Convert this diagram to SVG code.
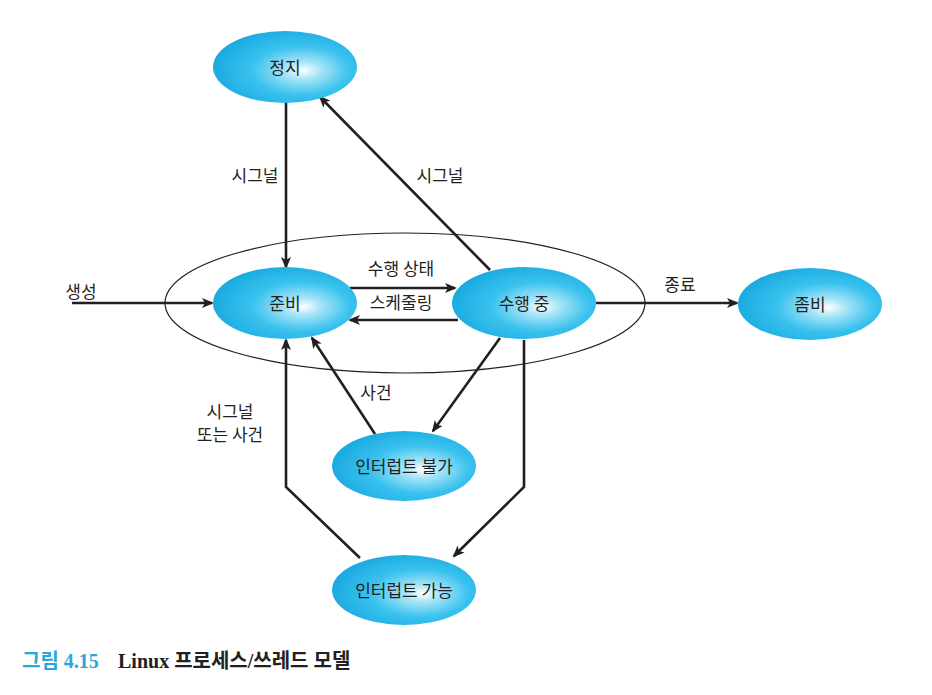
<svg xmlns="http://www.w3.org/2000/svg" width="932" height="695" viewBox="0 0 932 695">
<style>
.node{fill:url(#g);}
.lbl{font-family:"Noto Sans CJK KR","Liberation Sans",sans-serif;font-size:17px;fill:#231f20;text-anchor:middle;}
.edge{fill:none;stroke:#231f20;stroke-width:2.6;marker-end:url(#ah);}
.cap{font-family:"Liberation Serif","Noto Sans CJK KR",serif;font-weight:bold;font-size:20px;}
</style>
<defs>
<radialGradient id="g" cx="0.6" cy="0.55" r="0.62" fx="0.63" fy="0.55">
<stop offset="0" stop-color="#ffffff"/>
<stop offset="0.2" stop-color="#a6e4f7"/>
<stop offset="0.55" stop-color="#3ac2ee"/>
<stop offset="1" stop-color="#18a9e0"/>
</radialGradient>
<marker id="ah" markerWidth="12" markerHeight="10" refX="10" refY="5" orient="auto" markerUnits="userSpaceOnUse">
<path d="M0,0 L12,5 L0,10 L3,5 z" fill="#231f20"/>
</marker>
</defs>
<rect width="932" height="695" fill="#fff"/>
<ellipse cx="405" cy="303" rx="240" ry="70" fill="none" stroke="#231f20" stroke-width="1.2"/>
<g id="connectors">
<line class="edge" x1="72" y1="303" x2="212" y2="303"/>
<line class="edge" x1="286" y1="102" x2="286" y2="267"/>
<line class="edge" x1="490" y1="270" x2="320" y2="97"/>
<line class="edge" x1="350" y1="288" x2="455" y2="288"/>
<line class="edge" x1="458" y1="320" x2="350" y2="320"/>
<line class="edge" x1="596" y1="303" x2="737" y2="303"/>
<line class="edge" x1="500" y1="338" x2="433" y2="431"/>
<line class="edge" x1="375" y1="434" x2="312" y2="338"/>
<polyline class="edge" points="524,340 524,487 454,556"/>
<polyline class="edge" points="360,558 286,487 286,340"/>
</g>
<g id="labels">
<text class="lbl" x="81" y="298">생성</text>
<text class="lbl" x="255" y="182">시그널</text>
<text class="lbl" x="440" y="182">시그널</text>
<text class="lbl" x="401" y="275">수행 상태</text>
<text class="lbl" x="401" y="309">스케줄링</text>
<text class="lbl" x="680" y="291">종료</text>
<text class="lbl" x="376" y="399">사건</text>
<text class="lbl" x="230" y="418">시그널</text>
<text class="lbl" x="230" y="441">또는 사건</text>
</g>
<g id="n-stop"><ellipse class="node" cx="285" cy="67" rx="72" ry="36"/><text class="lbl" x="285" y="74">정지</text></g>
<g id="n-ready"><ellipse class="node" cx="285" cy="303" rx="72" ry="36"/><text class="lbl" x="285" y="310">준비</text></g>
<g id="n-running"><ellipse class="node" cx="524" cy="303" rx="72" ry="36"/><text class="lbl" x="524" y="310">수행 중</text></g>
<g id="n-zombie"><ellipse class="node" cx="810" cy="304" rx="72" ry="36"/><text class="lbl" x="810" y="311">좀비</text></g>
<g id="n-uninterruptible"><ellipse class="node" cx="404" cy="466" rx="72" ry="35"/><text class="lbl" x="404" y="473">인터럽트 불가</text></g>
<g id="n-interruptible"><ellipse class="node" cx="404" cy="590" rx="72" ry="35"/><text class="lbl" x="404" y="597">인터럽트 가능</text></g>
<g id="caption">
<text class="cap" x="22" y="668" fill="#29a6dc">그림 4.15</text>
<text class="cap" x="118" y="668" fill="#231f20">Linux 프로세스/쓰레드 모델</text>
</g>
</svg>
